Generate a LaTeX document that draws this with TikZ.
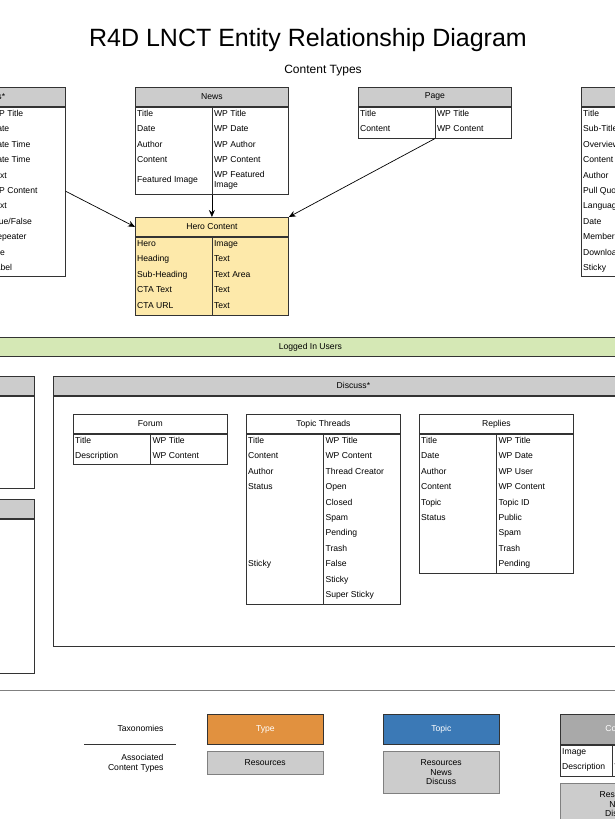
\documentclass[tikz,border=0pt]{standalone}
\usepackage{fontspec}
\setmainfont{Liberation Sans}
\usetikzlibrary{arrows.meta}
\definecolor{hdrgray}{HTML}{CCCCCC}
\definecolor{herofill}{HTML}{FDE9AA}
\definecolor{greenbar}{HTML}{D5E8B5}
\definecolor{typeorange}{HTML}{E1913F}
\definecolor{topicblue}{HTML}{3B79B6}
\definecolor{legendgray}{HTML}{A9A9A9}
\definecolor{linegray}{HTML}{333333}

% table: name, x, y, width, title, header fill, body fill, body height, rows
\newcommand{\ertable}[9]{%
  \node[erhead, fill=#6, minimum width=#4, anchor=north west] (#1) at (#2,#3) {#5};
  \node[erbody, fill=#7, minimum width=#4, minimum height=#8, anchor=north west] (#1-b) at (#1.south west) {};
  \draw[erline] (#1-b.north) -- (#1-b.south);
  \foreach \l/\r [count=\i] in {#9} {
    \node[cell] (#1-l\i) at ([xshift=1pt,yshift={-7.5pt-15.4pt*(\i-1)}]#1-b.north west) {\l};
    \node[cell] (#1-r\i) at ([xshift=1pt,yshift={-7.5pt-15.4pt*(\i-1)}]#1-b.north) {\r};
  }
}

\begin{document}
\begin{tikzpicture}[x=1pt,y=-1pt, font=\fontsize{8.6}{9.6}\selectfont,
  erline/.style={draw=linegray, line width=0.8pt},
  erhead/.style={erline, minimum height=19, inner sep=0pt},
  erbody/.style={erline, inner sep=0pt},
  cell/.style={anchor=west, inner sep=1pt, align=left, text height=6.2pt, text depth=1.8pt},
  tagbox/.style={erline, minimum width=116, minimum height=30, inner sep=0pt, text=white},
  listbox/.style={draw=gray, fill=hdrgray, minimum width=116, inner sep=0pt, align=center},
  link/.style={draw=black, line width=0.7pt, -{Stealth[length=7pt,width=6pt]}}]
\useasboundingbox (0,0) rectangle (615,819);

\node[font=\fontsize{25}{30}\selectfont] (title) at (308,40) {R4D LNCT Entity Relationship Diagram};
\node[font=\fontsize{12}{14}\selectfont] (ctypes) at (323,71) {Content Types};

% content types
\ertable{res}{-88}{87}{153}{\hspace*{-12pt}Resources*}{hdrgray}{white}{169}{/WP Title,/Date,/Date Time,/Date Time,/Text,/WP Content,/Text,/{True/False},/Repeater,/File,/Label}
\ertable{news}{135}{87}{153}{News}{hdrgray}{white}{87}{Title/WP Title,Date/WP Date,Author/WP Author,Content/WP Content}
\node[cell] (news-l5) at ([xshift=1pt,yshift=-73.5pt]news-b.north west) {Featured Image};
\node[cell, text height=, text depth=] (news-r5) at ([xshift=1pt,yshift=-73.5pt]news-b.north) {WP Featured\\Image};
\ertable{page}{358}{87}{153}{Page}{hdrgray}{white}{31}{Title/WP Title,Content/WP Content}
\ertable{pub}{581}{87}{153}{Publications}{hdrgray}{white}{169}{Title/,Sub-Title/,Overview/,Content/,Author/,Pull Quote/,Language/,Date/,Member/,Download/,Sticky/}
\ertable{hero}{135}{217}{153}{Hero Content}{herofill}{herofill}{78}{Hero/Image,Heading/Text,Sub-Heading/Text Area,CTA Text/Text,CTA URL/Text}

\draw[link] (res-b.east |- res-r6) -- (hero.west);
\draw[link] (news-b.south) -- (hero.north);
\draw[link] (page-b.south) -- (hero.north east);

% logged in users
\node[erhead, fill=greenbar, minimum width=640, anchor=north west] (logged) at (-10,337) {Logged In Users};

\node[erhead, fill=hdrgray, minimum width=120, anchor=north west] (box1) at (-86,376) {};
\node[erbody, minimum width=120, minimum height=92, anchor=north west] (box1-b) at (box1.south west) {};
\node[erhead, fill=hdrgray, minimum width=120, anchor=north west] (box2) at (-86,499) {};
\node[erbody, minimum width=120, minimum height=154, anchor=north west] (box2-b) at (box2.south west) {};

\node[erhead, fill=hdrgray, minimum width=600, anchor=north west] (disc) at (53,376) {Discuss*};
\node[erbody, minimum width=600, minimum height=250, anchor=north west] (disc-b) at (disc.south west) {};

\ertable{forum}{73}{414}{154}{Forum}{white}{white}{30}{Title/WP Title,Description/WP Content}
\ertable{threads}{246}{414}{154}{Topic Threads}{white}{white}{170}{Title/WP Title,Content/WP Content,Author/Thread Creator,Status/Open,/Closed,/Spam,/Pending,/Trash,Sticky/False,/Sticky,/Super Sticky}
\ertable{replies}{419}{414}{154}{Replies}{white}{white}{139}{Title/WP Title,Date/WP Date,Author/WP User,Content/WP Content,Topic/Topic ID,Status/Public,/Spam,/Trash,/Pending}

% legend
\coordinate (sepl) at (-5,690);
\coordinate (sepr) at (620,690);
\draw[draw=gray, line width=0.8pt] (sepl) -- (sepr);

\node[anchor=east] (taxo) at (167,728) {Taxonomies};
\coordinate (keyl) at (84,744);
\coordinate (keyr) at (176,744);
\draw[linegray, line width=0.8pt] (keyl) -- (keyr);
\node[anchor=north east, align=right] (assoc) at (167,751) {Associated\\Content Types};

\node[tagbox, fill=typeorange, anchor=north west] (type) at (207,714) {Type};
\node[listbox, minimum height=23, anchor=north west] (type-ct) at (207,751) {Resources};
\node[tagbox, fill=topicblue, anchor=north west] (topic) at (383,714) {Topic};
\node[listbox, minimum height=42, anchor=north west] (topic-ct) at (383,751) {Resources\\News\\Discuss};
\node[tagbox, fill=legendgray, anchor=north west, minimum width=120] (country) at (560,714) {Country};
\node[erbody, minimum width=120, minimum height=31, anchor=north west] (country-b) at (country.south west) {};
\draw[erline] ([xshift=-8pt]country-b.north) -- ([xshift=-8pt]country-b.south);
\node[cell] (country-l1) at ([xshift=1pt,yshift=-7.5pt]country-b.north west) {Image};
\node[cell] (country-l2) at ([xshift=1pt,yshift=-22.9pt]country-b.north west) {Description};
\node[cell] (country-r1) at ([xshift=-7pt,yshift=-7.5pt]country-b.north) {Image};
\node[cell] (country-r2) at ([xshift=-7pt,yshift=-22.9pt]country-b.north) {WP Content};
\node[listbox, minimum height=42, minimum width=120, anchor=north west] (country-ct) at (560,783) {Resources\\News\\Discuss};
\end{tikzpicture}
\end{document}
